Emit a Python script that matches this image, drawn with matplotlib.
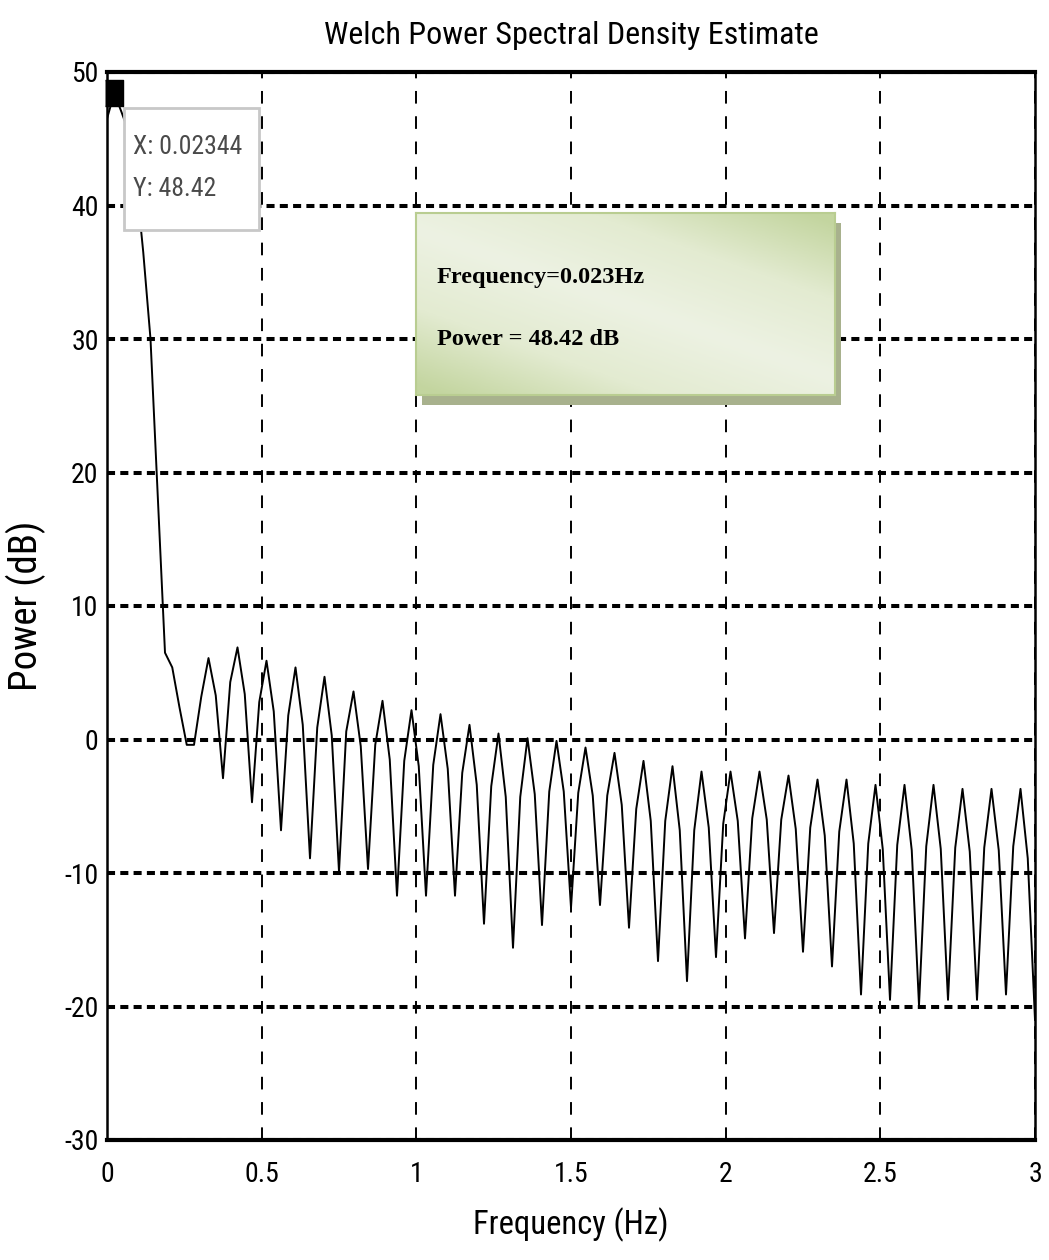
import numpy as np
import matplotlib
matplotlib.use('Agg')
import matplotlib.pyplot as plt
from matplotlib.patches import Rectangle
from matplotlib.colors import LinearSegmentedColormap

plt.rcParams['axes.unicode_minus'] = False

# welch psd, fs = 6 Hz, nfft = 256 -> 129 bins from 0 to 3 Hz
fs = 6.0
nfft = 256
freq_step = fs / nfft

power_db = [46.5, 48.42, 47.0, 45.5, 42.0, 36.5, 30.0, 18.3, 6.5, 5.4, 2.4, -0.4, -0.4, 3.2, 6.1,
            3.3, -2.9, 4.3, 6.9, 3.4, -4.7, 2.8, 5.9, 2.1, -6.8, 1.8, 5.4, 1.1, -8.9, 0.9,
            4.7, 0.3, -9.9, 0.6, 3.6, -0.5, -9.7, -0.4, 2.9, -1.5, -11.7, -1.6, 2.2, -2.0, -11.7,
            -1.9, 1.9, -2.2, -11.7, -2.5, 1.1, -3.4, -13.8, -3.5, 0.45, -4.3, -15.6, -4.3, 0.1, -4.1,
            -13.9, -3.9, -0.1, -3.9, -12.6, -4.0, -0.6, -4.2, -12.4, -4.2, -1.0, -4.9, -14.1, -5.2, -1.6,
            -6.1, -16.6, -6.1, -2.0, -6.8, -18.1, -6.8, -2.4, -6.6, -16.3, -6.3, -2.4, -6.1, -14.9, -5.9,
            -2.4, -6.0, -14.5, -6.0, -2.7, -6.7, -15.9, -6.6, -3.0, -7.2, -17.0, -6.9, -3.0, -7.8, -19.1,
            -7.8, -3.4, -8.2, -19.5, -7.9, -3.4, -8.3, -19.9, -8.0, -3.4, -8.2, -19.5, -8.1, -3.7, -8.4,
            -19.5, -8.1, -3.7, -8.3, -19.1, -8.0, -3.7, -8.9, -21.0]
freqs = np.arange(len(power_db)) * freq_step

# data cursor point
tip_x = 0.02344
tip_y = 48.42
tip_lines = ['X: 0.02344', 'Y: 48.42']
note_lines = ['Frequency=0.023Hz', 'Power = 48.42 dB']

x_ticks = [0, 0.5, 1, 1.5, 2, 2.5, 3]
x_tick_labels = ['0', '0.5', '1', '1.5', '2', '2.5', '3']
y_ticks = [-30, -20, -10, 0, 10, 20, 30, 40, 50]

narrow = ['Roboto Condensed', 'Roboto', 'DejaVu Sans']

W, H = 1049, 1260
fig = plt.figure(figsize=(W / 100, H / 100), dpi=100)
ax = fig.add_axes([107 / W, 1 - 1140 / H, 928 / W, 1068 / H])

ax.plot(freqs, power_db, color='black', lw=1.4, zorder=3)
ax.plot([tip_x], [tip_y], marker=[(-0.7, -1), (0.7, -1), (0.7, 1), (-0.7, 1)],
        markersize=18.7, color='black', zorder=6, clip_on=False)

ax.set_xlim(0, 3)
ax.set_ylim(-30, 50)
ax.set_xticks(x_ticks)
ax.set_xticklabels(x_tick_labels)
ax.set_yticks(y_ticks)
ax.tick_params(direction='in', length=0)
ax.tick_params(axis='x', pad=15)
ax.tick_params(axis='y', pad=6)
for lab in ax.get_xticklabels() + ax.get_yticklabels():
    lab.set_family(narrow)
    lab.set_fontsize(20)

# matlab style grid: dotted horizontals, dashed verticals
ax.yaxis.grid(True, color='black', linestyle=(0, (2.0, 1.3)), linewidth=2.9)
ax.xaxis.grid(True, color='black', linestyle=(0, (6.5, 6.5)), linewidth=1.4)
ax.set_axisbelow(True)
for side in ['top', 'bottom']:
    ax.spines[side].set_linewidth(3.0)
for side in ['left', 'right']:
    ax.spines[side].set_linewidth(1.8)

ax.set_title('Welch Power Spectral Density Estimate', fontsize=23, family=narrow, pad=20)
ax.set_xlabel('Frequency (Hz)', fontsize=23.5, family=narrow, labelpad=14)
ax.set_ylabel('Power (dB)', fontsize=28, family=narrow)
ax.yaxis.set_label_coords(-(107 - 46) / 928, 0.5)

# datatip box
ax.add_patch(Rectangle((17 / 928, 1 - 158 / 1068), 135 / 928, 122 / 1068, transform=ax.transAxes,
                       facecolor='white', edgecolor='#c8c8c8', lw=2, zorder=4))
ax.text(26 / 928, 1 - 82 / 1068, tip_lines[0], transform=ax.transAxes, fontsize=18.5,
        family=narrow, color='#4a4a4a', va='baseline', zorder=5)
ax.text(26 / 928, 1 - 124 / 1068, tip_lines[1], transform=ax.transAxes, fontsize=18.5,
        family=narrow, color='#4a4a4a', va='baseline', zorder=5)

# green note box with shadow
shadow = Rectangle((422 / W, 1 - 405 / H), 419 / W, 182 / H, transform=fig.transFigure,
                   facecolor='#a8b18d', edgecolor='none', zorder=1.5)
fig.patches.append(shadow)
box_ax = fig.add_axes([416 / W, 1 - 395 / H, 419 / W, 182 / H])
box_ax.set_zorder(2)
gy, gx = np.mgrid[0:1:120j, 0:1:240j]
shade = np.abs(gx * 0.9 + gy * 1.1 - 1.0)
green = LinearSegmentedColormap.from_list('green', ['#edf2e3', '#e3ebd1', '#c3d59f'])
box_ax.imshow(shade, cmap=green, extent=[0, 1, 0, 1], aspect='auto', origin='lower', vmin=0, vmax=0.95)
box_ax.set_xticks([])
box_ax.set_yticks([])
for side in box_ax.spines:
    box_ax.spines[side].set_color('#b9cd91')
    box_ax.spines[side].set_linewidth(1.5)
box_ax.text(0.05, 0.615, note_lines[0], fontsize=17.5, fontweight='bold', family='Liberation Serif',
            va='baseline', transform=box_ax.transAxes)
box_ax.text(0.05, 0.275, note_lines[1], fontsize=17.5, fontweight='bold', family='Liberation Serif',
            va='baseline', transform=box_ax.transAxes)

fig.savefig('out.png', dpi=100)
